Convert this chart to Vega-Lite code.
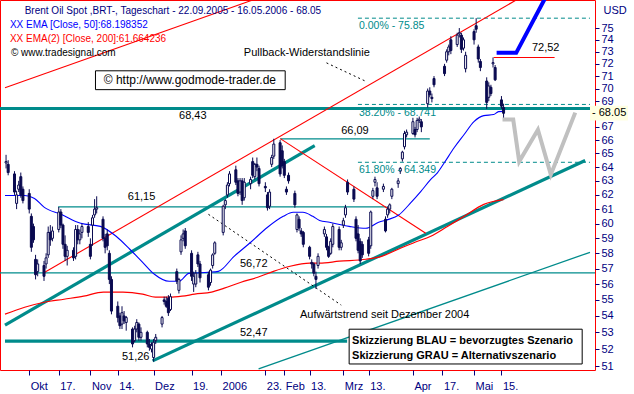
{
"$schema":"https://vega.github.io/schema/vega-lite/v6.json",
"width":595,"height":370,
"autosize":{"type":"none"},
"padding":{"left":0,"top":0,"right":39,"bottom":24},
"background":"white",
"config":{"view":{"stroke":"#ff0000","strokeWidth":1},"font":"Liberation Sans","text":{"font":"Liberation Sans"},
 "axisX":{"labelOverlap":false,"labelAlign":"left","labelOffset":1,"labelPadding":5,"labelColor":"#000080","labelFont":"Liberation Sans","labelFontSize":11,"labelFlush":false,"labelBound":false,"tickColor":"#000080","tickSize":5,"domain":false,"grid":false},
 "axisY":{"labelOverlap":false,"labelColor":"#000080","labelFont":"Liberation Sans","labelFontSize":11,"labelPadding":2,"tickColor":"#000080","tickSize":4,"domain":false,"grid":false,"labelBound":false,"labelFlush":false}},
"datasets":{
"full":[{"v":56.72,"k":"thin"},{"v":68.43,"k":"thick"}],
"tealThin":[{"a":"2005-10-16T17:00Z","b":"2006-03-21T12:00Z","p":61.15,"q":61.15},{"a":"2006-01-30T02:00Z","b":"2006-04-11T00:00Z","p":66.09,"q":66.09},{"a":"2006-01-19T19:00Z","b":"2006-06-26T00:00Z","p":50.83,"q":58.07}],
"tealThick":[{"a":"2005-09-21T12:00Z","b":"2006-03-02T19:00Z","p":52.47,"q":52.47},{"a":"2005-09-21T12:00Z","b":"2006-02-15T10:00Z","p":53.44,"q":65.58},{"a":"2005-11-30T12:00Z","b":"2006-06-23T17:00Z","p":51.3,"q":64.48}],
"fib":[{"a":"2006-03-07T22:00Z","b":"2006-06-26T00:00Z","p":75.85,"q":75.85},{"a":"2006-03-07T22:00Z","b":"2006-06-26T00:00Z","p":68.741,"q":68.741},{"a":"2006-03-07T22:00Z","b":"2006-06-26T00:00Z","p":64.349,"q":64.349}],
"red":[{"a":"2005-10-10T04:00Z","b":"2006-05-22T00:00Z","p":56.75,"q":77.44},{"a":"2005-09-21T12:00Z","b":"2006-01-17T00:00Z","p":70.06,"q":77.44},{"a":"2006-01-30T02:00Z","b":"2006-04-09T02:00Z","p":66.11,"q":59.34},{"a":"2006-05-11T07:00Z","b":"2006-06-09T05:00Z","p":72.52,"q":72.52}],
"blackDash":[{"a":"2006-02-21T00:00Z","b":"2006-03-12T03:00Z","p":72.08,"q":70.54},{"a":"2005-12-27T00:00Z","b":"2006-02-28T00:00Z","p":60.64,"q":54.67}],
"ema50":[{"d":"2005-09-21T12:00Z","v":61.96},{"d":"2005-09-30T20:00Z","v":61.96},{"d":"2005-10-05T12:00Z","v":61.75},{"d":"2005-10-10T04:00Z","v":61.12},{"d":"2005-10-18T02:00Z","v":60.64},{"d":"2005-10-27T10:00Z","v":60.02},{"d":"2005-11-05T18:00Z","v":59.81},{"d":"2005-11-13T05:00Z","v":59.14},{"d":"2005-11-19T17:00Z","v":58.27},{"d":"2005-11-25T19:00Z","v":57.41},{"d":"2005-12-01T09:00Z","v":56.63},{"d":"2005-12-08T09:00Z","v":56.18},{"d":"2005-12-13T01:00Z","v":56.18},{"d":"2005-12-17T17:00Z","v":56.69},{"d":"2005-12-27T01:00Z","v":56.76},{"d":"2005-12-31T17:00Z","v":56.82},{"d":"2006-01-08T04:00Z","v":57.8},{"d":"2006-01-16T02:00Z","v":58.74},{"d":"2006-01-24T01:00Z","v":59.75},{"d":"2006-01-31T12:00Z","v":60.5},{"d":"2006-02-05T04:00Z","v":60.78},{"d":"2006-02-09T20:00Z","v":60.78},{"d":"2006-02-14T12:00Z","v":60.5},{"d":"2006-02-17T18:00Z","v":60.22},{"d":"2006-02-22T10:00Z","v":60.09},{"d":"2006-03-03T18:00Z","v":59.81},{"d":"2006-03-11T16:00Z","v":59.68},{"d":"2006-03-17T18:00Z","v":60.09},{"d":"2006-03-22T10:00Z","v":60.29},{"d":"2006-03-27T01:00Z","v":60.57},{"d":"2006-04-02T03:00Z","v":61.47},{"d":"2006-04-06T19:00Z","v":62.25},{"d":"2006-04-11T11:00Z","v":63.1},{"d":"2006-04-14T17:00Z","v":63.6},{"d":"2006-04-17T23:00Z","v":64.33},{"d":"2006-04-22T15:00Z","v":65.44},{"d":"2006-04-27T07:00Z","v":66.42},{"d":"2006-05-01T23:00Z","v":67.41},{"d":"2006-05-06T15:00Z","v":67.87},{"d":"2006-05-11T07:00Z","v":67.95},{"d":"2006-05-13T15:00Z","v":68.18},{"d":"2006-05-15T23:00Z","v":68.2}],
"ema200":[{"d":"2005-09-21T12:00Z","v":54.11},{"d":"2005-09-30T20:00Z","v":54.54},{"d":"2005-10-10T04:00Z","v":54.85},{"d":"2005-10-19T12:00Z","v":55.04},{"d":"2005-10-28T19:00Z","v":55.23},{"d":"2005-11-07T03:00Z","v":55.49},{"d":"2005-11-16T11:00Z","v":55.49},{"d":"2005-11-25T19:00Z","v":55.36},{"d":"2005-12-01T21:00Z","v":55.17},{"d":"2005-12-08T09:00Z","v":55.17},{"d":"2005-12-14T11:00Z","v":55.23},{"d":"2005-12-20T12:00Z","v":55.36},{"d":"2005-12-28T11:00Z","v":55.49},{"d":"2006-01-03T12:00Z","v":55.74},{"d":"2006-01-11T11:00Z","v":56.12},{"d":"2006-01-19T09:00Z","v":56.44},{"d":"2006-01-26T20:00Z","v":56.82},{"d":"2006-02-03T18:00Z","v":57.15},{"d":"2006-02-13T02:00Z","v":57.35},{"d":"2006-02-17T18:00Z","v":57.35},{"d":"2006-02-27T02:00Z","v":57.48},{"d":"2006-03-11T16:00Z","v":57.61},{"d":"2006-03-19T03:00Z","v":57.8},{"d":"2006-03-27T01:00Z","v":58.27},{"d":"2006-04-03T23:00Z","v":58.74},{"d":"2006-04-11T11:00Z","v":59.14},{"d":"2006-04-19T09:00Z","v":59.81},{"d":"2006-04-27T07:00Z","v":60.5},{"d":"2006-05-06T15:00Z","v":61.33},{"d":"2006-05-15T23:00Z","v":61.66}],
"blue":[{"d":"2006-05-12T17:00Z","v":72.91},{"d":"2006-05-22T00:00Z","v":72.91},{"d":"2006-06-05T00:00Z","v":77.7}],
"grey":[{"d":"2006-05-15T12:00Z","v":67.56},{"d":"2006-05-20T14:00Z","v":67.56},{"d":"2006-05-23T10:00Z","v":64.41},{"d":"2006-06-01T07:00Z","v":66.79},{"d":"2006-06-07T10:00Z","v":63.45},{"d":"2006-06-19T00:00Z","v":68.1}],
"boxes":[{"a":"2005-11-03T10:00Z","b":"2006-02-01T10:00Z","p":71.43,"q":69.91},{"a":"2006-03-03T18:00Z","b":"2006-06-22T07:00Z","p":53.19,"q":51.12}],
"lblC":[{"d":"2005-12-19T14:00Z","v":67.87,"t":"68,43"},{"d":"2005-11-25T07:00Z","v":61.82,"t":"61,15"},{"d":"2006-01-17T12:00Z","v":57.28,"t":"56,72"},{"d":"2006-01-17T12:00Z","v":52.95,"t":"52,47"},{"d":"2005-11-22T12:00Z","v":51.53,"t":"51,26"},{"d":"2006-03-06T12:00Z","v":66.72,"t":"66,09"},{"d":"2006-06-05T00:00Z","v":73.33,"t":"72,52"}],
"lblL":[{"d":"2006-01-12T19:00Z","v":72.91,"t":"Pullback-Widerstandslinie"},{"d":"2006-02-08T10:00Z","v":54.04,"t":"Aufwärtstrend seit Dezember 2004"}],
"lblFib":[{"d":"2006-03-08T10:00Z","v":75.18,"t":"0.00% - 75.85"},{"d":"2006-03-08T10:00Z","v":68.1,"t":"38.20% - 68.741"},{"d":"2006-03-08T10:00Z","v":63.75,"t":"61.80% - 64.349"}],
"header":[{"d":"2005-09-30T20:00Z","v":76.48,"t":"Brent Oil Spot ,BRT-, Tageschart - 22.09.2005 - 16.05.2006 - 68.05","k":"a"},{"d":"2005-09-23T20:00Z","v":75.27,"t":"XX EMA [Close, 50]:68.198352","k":"b"},{"d":"2005-09-23T20:00Z","v":74.08,"t":"XX EMA(2) [Close, 200]:61.664236","k":"c"},{"d":"2005-09-24T08:00Z","v":72.91,"t":"© www.tradesignal.com","k":"d"}],
"godmode":[{"d":"2005-12-18T05:00Z","v":70.71,"t":"© http://www.godmode-trader.de"}],
"skizz":[{"d":"2006-03-05T03:00Z","v":52.47,"t":"Skizzierung BLAU = bevorzugtes Szenario"},{"d":"2006-03-05T03:00Z","v":51.58,"t":"Skizzierung GRAU = Alternativszenario"}],
"marker":[{"a":"2006-06-26T00:00Z","b":"2006-07-14T00:00Z","p":68.64,"q":67.5,"v":68.05,"t":"- 68.05"}],
"ohlc":[
{"d":"2005-09-22","o":64.3,"h":64.9,"l":63.9,"c":64.4},{"d":"2005-09-23","o":64.2,"h":64.5,"l":63.4,"c":63.6},{"d":"2005-09-26","o":63.5,"h":63.7,"l":62.0,"c":62.2},{"d":"2005-09-27","o":61.4,"h":62.3,"l":61.0,"c":62.0},{"d":"2005-09-28","o":62.4,"h":63.0,"l":62.2,"c":62.7},{"d":"2005-09-29","o":63.3,"h":63.6,"l":61.8,"c":62.0},{"d":"2005-09-30","o":62.4,"h":62.6,"l":61.4,"c":61.6},
{"d":"2005-10-03","o":62.1,"h":62.4,"l":60.7,"c":61.0},{"d":"2005-10-04","o":60.5,"h":60.7,"l":58.1,"c":58.4},{"d":"2005-10-05","o":59.8,"h":60.0,"l":58.7,"c":58.9},{"d":"2005-10-06","o":57.6,"h":57.9,"l":56.3,"c":56.6},{"d":"2005-10-07","o":56.8,"h":57.6,"l":56.5,"c":57.3},
{"d":"2005-10-10","o":57.2,"h":57.5,"l":56.2,"c":56.5},{"d":"2005-10-11","o":57.3,"h":58.0,"l":57.0,"c":57.7},{"d":"2005-10-12","o":57.9,"h":59.8,"l":57.7,"c":59.4},{"d":"2005-10-13","o":59.4,"h":59.9,"l":58.5,"c":58.9},{"d":"2005-10-14","o":59.0,"h":59.8,"l":58.8,"c":59.5},
{"d":"2005-10-17","o":59.6,"h":61.15,"l":59.4,"c":60.8},{"d":"2005-10-18","o":60.8,"h":61.0,"l":59.7,"c":59.9},{"d":"2005-10-19","o":59.9,"h":60.0,"l":58.3,"c":58.6},{"d":"2005-10-20","o":58.6,"h":59.2,"l":57.5,"c":57.8},{"d":"2005-10-21","o":57.8,"h":58.5,"l":57.2,"c":58.2},
{"d":"2005-10-24","o":58.2,"h":58.4,"l":57.5,"c":57.7},{"d":"2005-10-25","o":57.8,"h":59.9,"l":57.6,"c":59.6},{"d":"2005-10-26","o":59.6,"h":59.9,"l":58.6,"c":58.9},{"d":"2005-10-27","o":58.9,"h":59.6,"l":58.6,"c":59.3},{"d":"2005-10-28","o":59.4,"h":60.0,"l":59.0,"c":59.8},
{"d":"2005-10-31","o":59.8,"h":60.1,"l":59.1,"c":59.4},{"d":"2005-11-01","o":58.6,"h":59.0,"l":57.6,"c":57.8},{"d":"2005-11-02","o":59.9,"h":60.6,"l":58.5,"c":60.4},{"d":"2005-11-03","o":60.6,"h":61.7,"l":60.4,"c":61.0},{"d":"2005-11-04","o":61.0,"h":61.9,"l":60.7,"c":61.1},
{"d":"2005-11-07","o":60.3,"h":60.5,"l":58.8,"c":59.0},{"d":"2005-11-08","o":59.0,"h":59.3,"l":58.0,"c":58.4},{"d":"2005-11-09","o":59.3,"h":59.6,"l":58.2,"c":58.5},{"d":"2005-11-10","o":58.0,"h":58.2,"l":56.0,"c":56.3},{"d":"2005-11-11","o":56.3,"h":56.5,"l":54.1,"c":54.3},
{"d":"2005-11-14","o":54.6,"h":54.9,"l":53.6,"c":53.9},{"d":"2005-11-15","o":54.0,"h":54.2,"l":53.2,"c":53.4},{"d":"2005-11-16","o":53.5,"h":54.6,"l":53.2,"c":54.2},{"d":"2005-11-17","o":54.0,"h":54.3,"l":53.5,"c":53.7},{"d":"2005-11-18","o":53.6,"h":54.0,"l":53.1,"c":53.9},
{"d":"2005-11-21","o":53.2,"h":53.3,"l":52.1,"c":52.3},{"d":"2005-11-22","o":52.5,"h":53.4,"l":52.4,"c":53.2},{"d":"2005-11-23","o":53.2,"h":53.8,"l":53.0,"c":53.6},{"d":"2005-11-24","o":53.5,"h":53.6,"l":52.5,"c":52.7},{"d":"2005-11-25","o":52.7,"h":53.3,"l":52.5,"c":53.0},
{"d":"2005-11-28","o":53.0,"h":53.1,"l":52.1,"c":52.3},{"d":"2005-11-29","o":52.3,"h":52.6,"l":51.9,"c":52.1},{"d":"2005-11-30","o":52.0,"h":52.4,"l":51.8,"c":52.2},{"d":"2005-12-01","o":51.5,"h":52.6,"l":51.26,"c":52.4},{"d":"2005-12-02","o":52.5,"h":52.9,"l":52.3,"c":52.7},
{"d":"2005-12-05","o":53.5,"h":54.0,"l":53.3,"c":53.9},{"d":"2005-12-06","o":55.0,"h":55.2,"l":54.7,"c":54.9},{"d":"2005-12-07","o":54.9,"h":55.2,"l":54.5,"c":54.6},{"d":"2005-12-08","o":55.1,"h":55.3,"l":54.0,"c":54.2},{"d":"2005-12-09","o":54.4,"h":55.4,"l":54.3,"c":55.2},
{"d":"2005-12-12","o":56.8,"h":57.0,"l":56.0,"c":56.2},{"d":"2005-12-13","o":55.6,"h":56.4,"l":55.4,"c":56.3},{"d":"2005-12-14","o":58.1,"h":59.2,"l":57.9,"c":58.9},{"d":"2005-12-15","o":59.0,"h":59.6,"l":58.8,"c":59.3},{"d":"2005-12-16","o":59.5,"h":59.7,"l":58.3,"c":58.5},
{"d":"2005-12-19","o":58.0,"h":58.2,"l":56.2,"c":56.5},{"d":"2005-12-20","o":56.0,"h":56.8,"l":55.5,"c":56.5},{"d":"2005-12-21","o":56.0,"h":56.9,"l":55.8,"c":56.7},{"d":"2005-12-22","o":57.9,"h":58.1,"l":57.1,"c":57.3},{"d":"2005-12-23","o":57.3,"h":57.5,"l":56.1,"c":56.4},
{"d":"2005-12-27","o":56.6,"h":56.8,"l":55.6,"c":55.8},{"d":"2005-12-28","o":56.1,"h":57.0,"l":55.9,"c":56.9},{"d":"2005-12-29","o":57.2,"h":58.0,"l":57.0,"c":57.9},{"d":"2005-12-30","o":58.0,"h":58.8,"l":57.9,"c":58.7},
{"d":"2006-01-03","o":59.4,"h":61.3,"l":59.2,"c":61.2},{"d":"2006-01-04","o":61.3,"h":61.7,"l":61.0,"c":61.6},{"d":"2006-01-05","o":62.0,"h":62.9,"l":61.8,"c":62.7},{"d":"2006-01-06","o":62.8,"h":63.7,"l":62.6,"c":63.5},
{"d":"2006-01-09","o":63.8,"h":64.1,"l":62.7,"c":62.9},{"d":"2006-01-10","o":63.0,"h":63.2,"l":61.9,"c":62.1},{"d":"2006-01-11","o":62.2,"h":63.2,"l":62.0,"c":63.0},{"d":"2006-01-12","o":63.0,"h":63.2,"l":61.3,"c":61.6},{"d":"2006-01-13","o":61.8,"h":63.2,"l":61.6,"c":62.9},
{"d":"2006-01-16","o":62.8,"h":63.3,"l":62.4,"c":63.1},{"d":"2006-01-17","o":64.4,"h":64.7,"l":63.2,"c":63.4},{"d":"2006-01-18","o":63.3,"h":64.3,"l":63.1,"c":64.2},{"d":"2006-01-19","o":64.2,"h":64.7,"l":63.7,"c":64.0},{"d":"2006-01-20","o":63.9,"h":64.1,"l":62.6,"c":62.8},
{"d":"2006-01-23","o":62.6,"h":62.9,"l":62.2,"c":62.5},{"d":"2006-01-24","o":62.0,"h":62.2,"l":60.9,"c":61.1},{"d":"2006-01-25","o":61.2,"h":62.4,"l":61.0,"c":62.2},{"d":"2006-01-26","o":64.2,"h":64.9,"l":64.0,"c":64.7},{"d":"2006-01-27","o":64.8,"h":66.1,"l":64.6,"c":65.7},
{"d":"2006-01-30","o":65.8,"h":66.0,"l":63.3,"c":63.5},{"d":"2006-01-31","o":65.2,"h":65.6,"l":63.9,"c":64.1},{"d":"2006-02-01","o":64.4,"h":64.6,"l":63.2,"c":63.4},{"d":"2006-02-02","o":62.4,"h":62.6,"l":62.0,"c":62.2},{"d":"2006-02-03","o":63.4,"h":63.6,"l":62.8,"c":63.0},
{"d":"2006-02-06","o":62.1,"h":62.3,"l":61.1,"c":61.3},{"d":"2006-02-07","o":59.6,"h":60.7,"l":59.4,"c":60.6},{"d":"2006-02-08","o":60.3,"h":60.5,"l":59.5,"c":59.7},{"d":"2006-02-09","o":59.5,"h":59.7,"l":59.1,"c":59.3},{"d":"2006-02-10","o":59.4,"h":59.5,"l":58.4,"c":58.6},
{"d":"2006-02-13","o":58.4,"h":58.5,"l":57.6,"c":57.8},{"d":"2006-02-14","o":57.4,"h":57.6,"l":57.0,"c":57.3},{"d":"2006-02-15","o":57.3,"h":57.4,"l":56.5,"c":56.7},{"d":"2006-02-16","o":56.5,"h":56.8,"l":55.7,"c":56.3},{"d":"2006-02-17","o":57.2,"h":58.0,"l":57.0,"c":57.8},
{"d":"2006-02-20","o":59.3,"h":59.8,"l":59.1,"c":59.6},{"d":"2006-02-21","o":59.1,"h":59.3,"l":58.2,"c":58.4},{"d":"2006-02-22","o":58.4,"h":58.5,"l":57.7,"c":57.8},{"d":"2006-02-23","o":58.0,"h":59.0,"l":57.9,"c":58.8},{"d":"2006-02-24","o":58.6,"h":60.0,"l":58.4,"c":59.8},
{"d":"2006-02-27","o":59.6,"h":59.8,"l":58.2,"c":58.4},{"d":"2006-02-28","o":58.4,"h":58.9,"l":58.2,"c":58.7},{"d":"2006-03-01","o":59.9,"h":60.4,"l":59.7,"c":60.2},{"d":"2006-03-02","o":60.6,"h":61.3,"l":60.4,"c":61.1},{"d":"2006-03-03","o":62.9,"h":63.1,"l":62.0,"c":62.2},
{"d":"2006-03-06","o":62.4,"h":62.6,"l":61.5,"c":61.7},{"d":"2006-03-07","o":60.3,"h":60.5,"l":58.8,"c":59.0},{"d":"2006-03-08","o":59.3,"h":59.9,"l":58.0,"c":58.2},{"d":"2006-03-09","o":58.8,"h":59.0,"l":57.3,"c":57.5},{"d":"2006-03-10","o":58.6,"h":58.8,"l":57.7,"c":57.9},
{"d":"2006-03-13","o":58.9,"h":59.1,"l":57.8,"c":58.0},{"d":"2006-03-14","o":58.5,"h":60.9,"l":58.3,"c":60.8},{"d":"2006-03-15","o":61.9,"h":62.5,"l":61.7,"c":62.3},{"d":"2006-03-16","o":62.9,"h":63.3,"l":62.6,"c":63.1},{"d":"2006-03-17","o":62.5,"h":62.9,"l":61.7,"c":61.9},
{"d":"2006-03-20","o":62.4,"h":62.8,"l":62.2,"c":62.6},{"d":"2006-03-21","o":60.3,"h":60.5,"l":59.4,"c":59.5},{"d":"2006-03-22","o":60.6,"h":61.2,"l":60.4,"c":61.0},{"d":"2006-03-23","o":61.0,"h":61.4,"l":60.7,"c":61.3},{"d":"2006-03-24","o":61.9,"h":62.5,"l":61.7,"c":62.4},
{"d":"2006-03-27","o":62.8,"h":63.2,"l":62.5,"c":63.0},{"d":"2006-03-28","o":63.7,"h":64.0,"l":63.5,"c":63.9},{"d":"2006-03-29","o":64.6,"h":65.2,"l":64.4,"c":65.1},{"d":"2006-03-30","o":65.5,"h":66.7,"l":65.3,"c":66.5},{"d":"2006-03-31","o":66.4,"h":66.8,"l":66.2,"c":66.6},
{"d":"2006-04-03","o":66.5,"h":67.7,"l":66.4,"c":67.4},{"d":"2006-04-04","o":66.8,"h":67.0,"l":66.2,"c":66.4},{"d":"2006-04-05","o":66.8,"h":67.7,"l":66.6,"c":67.5},{"d":"2006-04-06","o":67.5,"h":67.8,"l":67.3,"c":67.6},{"d":"2006-04-07","o":67.4,"h":67.6,"l":66.6,"c":67.0},
{"d":"2006-04-10","o":68.8,"h":70.0,"l":68.5,"c":69.8},{"d":"2006-04-11","o":69.8,"h":70.1,"l":69.3,"c":69.5},{"d":"2006-04-12","o":69.3,"h":69.6,"l":68.9,"c":69.2},{"d":"2006-04-13","o":70.8,"h":71.0,"l":70.1,"c":70.3},
{"d":"2006-04-18","o":71.8,"h":72.0,"l":71.0,"c":71.2},{"d":"2006-04-19","o":72.3,"h":73.2,"l":72.1,"c":73.0},{"d":"2006-04-20","o":73.0,"h":73.6,"l":72.7,"c":73.4},{"d":"2006-04-21","o":74.0,"h":74.3,"l":72.8,"c":73.1},
{"d":"2006-04-24","o":73.6,"h":74.6,"l":73.4,"c":74.4},{"d":"2006-04-25","o":74.5,"h":75.0,"l":74.2,"c":74.6},{"d":"2006-04-26","o":74.4,"h":74.6,"l":72.9,"c":73.2},{"d":"2006-04-27","o":73.3,"h":74.2,"l":73.1,"c":74.0},{"d":"2006-04-28","o":71.6,"h":73.0,"l":71.3,"c":72.7},
{"d":"2006-05-02","o":74.7,"h":74.9,"l":73.6,"c":74.0},{"d":"2006-05-03","o":75.2,"h":75.85,"l":74.6,"c":74.9},{"d":"2006-05-04","o":73.4,"h":73.6,"l":72.1,"c":72.4},{"d":"2006-05-05","o":72.2,"h":72.4,"l":71.4,"c":71.7},
{"d":"2006-05-08","o":70.6,"h":70.9,"l":68.4,"c":68.9},{"d":"2006-05-09","o":69.3,"h":70.5,"l":69.0,"c":70.2},{"d":"2006-05-10","o":70.1,"h":70.3,"l":69.4,"c":69.6},{"d":"2006-05-11","o":72.0,"h":72.52,"l":71.7,"c":72.1},{"d":"2006-05-12","o":71.7,"h":71.9,"l":70.6,"c":70.7},
{"d":"2006-05-15","o":69.1,"h":69.4,"l":68.4,"c":68.6},{"d":"2006-05-16","o":68.5,"h":68.8,"l":67.5,"c":68.05}
]},
"layer":[
{"data":{"name":"full"},"transform":[{"filter":"datum.k=='thin'"}],"mark":{"type":"rule","color":"#008b8b","strokeWidth":1.3},
 "encoding":{"y":{"field":"v","type":"quantitative","title":"USD","scale":{"type":"log","domain":[50.77,77.44],"nice":false}}}},
{"data":{"name":"full"},"transform":[{"filter":"datum.k=='thick'"}],"mark":{"type":"rule","color":"#008b8b","strokeWidth":3},
 "encoding":{"y":{"field":"v","type":"quantitative","title":"USD","scale":{"type":"log","domain":[50.77,77.44],"nice":false}}}},
{"data":{"name":"tealThin"},"mark":{"type":"rule","color":"#008b8b","strokeWidth":1.3,"clip":true},
 "encoding":{"x":{"field":"a","type":"temporal","title":null,"scale":{"type":"utc","domain":[{"year":2005,"month":9,"date":21,"hours":12,"utc":true},{"year":2006,"month":6,"date":26,"utc":true}]}},"x2":{"field":"b"},
 "y":{"field":"p","type":"quantitative","title":"USD","scale":{"type":"log","domain":[50.77,77.44],"nice":false}},"y2":{"field":"q"}}},
{"data":{"name":"tealThick"},"mark":{"type":"rule","color":"#008b8b","strokeWidth":3.2,"clip":true},
 "encoding":{"x":{"field":"a","type":"temporal","title":null,"scale":{"type":"utc","domain":[{"year":2005,"month":9,"date":21,"hours":12,"utc":true},{"year":2006,"month":6,"date":26,"utc":true}]}},"x2":{"field":"b"},
 "y":{"field":"p","type":"quantitative","title":"USD","scale":{"type":"log","domain":[50.77,77.44],"nice":false}},"y2":{"field":"q"}}},
{"data":{"name":"fib"},"mark":{"type":"rule","color":"#008b8b","strokeWidth":1,"strokeDash":[4,3],"clip":true},
 "encoding":{"x":{"field":"a","type":"temporal","title":null,"scale":{"type":"utc","domain":[{"year":2005,"month":9,"date":21,"hours":12,"utc":true},{"year":2006,"month":6,"date":26,"utc":true}]}},"x2":{"field":"b"},
 "y":{"field":"p","type":"quantitative","title":"USD","scale":{"type":"log","domain":[50.77,77.44],"nice":false}},"y2":{"field":"q"}}},
{"data":{"name":"red"},"mark":{"type":"rule","color":"#ff0000","strokeWidth":1.1,"clip":true},
 "encoding":{"x":{"field":"a","type":"temporal","title":null,"scale":{"type":"utc","domain":[{"year":2005,"month":9,"date":21,"hours":12,"utc":true},{"year":2006,"month":6,"date":26,"utc":true}]}},"x2":{"field":"b"},
 "y":{"field":"p","type":"quantitative","title":"USD","scale":{"type":"log","domain":[50.77,77.44],"nice":false}},"y2":{"field":"q"}}},
{"data":{"name":"blackDash"},"mark":{"type":"rule","color":"#000000","strokeWidth":1,"strokeDash":[2,3],"clip":true},
 "encoding":{"x":{"field":"a","type":"temporal","title":null,"scale":{"type":"utc","domain":[{"year":2005,"month":9,"date":21,"hours":12,"utc":true},{"year":2006,"month":6,"date":26,"utc":true}]}},"x2":{"field":"b"},
 "y":{"field":"p","type":"quantitative","title":"USD","scale":{"type":"log","domain":[50.77,77.44],"nice":false}},"y2":{"field":"q"}}},
{"data":{"name":"ema200"},"mark":{"type":"line","color":"#ff0000","strokeWidth":1.2,"interpolate":"monotone","clip":true},
 "encoding":{"x":{"field":"d","type":"temporal","title":null,"scale":{"type":"utc","domain":[{"year":2005,"month":9,"date":21,"hours":12,"utc":true},{"year":2006,"month":6,"date":26,"utc":true}]}},
 "y":{"field":"v","type":"quantitative","title":"USD","scale":{"type":"log","domain":[50.77,77.44],"nice":false}}}},
{"data":{"name":"ema50"},"mark":{"type":"line","color":"#0000ff","strokeWidth":1.1,"interpolate":"monotone","clip":true},
 "encoding":{"x":{"field":"d","type":"temporal","title":null,"scale":{"type":"utc","domain":[{"year":2005,"month":9,"date":21,"hours":12,"utc":true},{"year":2006,"month":6,"date":26,"utc":true}]}},
 "y":{"field":"v","type":"quantitative","title":"USD","scale":{"type":"log","domain":[50.77,77.44],"nice":false}}}},
{"data":{"name":"ohlc"},"mark":{"type":"rule","color":"#0a0a50","strokeWidth":1},
 "encoding":{"x":{"field":"d","type":"temporal","title":null,"scale":{"type":"utc","domain":[{"year":2005,"month":9,"date":21,"hours":12,"utc":true},{"year":2006,"month":6,"date":26,"utc":true}]},
   "axis":{"orient":"bottom","labelOverlap":false,"tickCount":40,"values":[{"year":2005,"month":10,"date":3,"utc":true},{"year":2005,"month":10,"date":17,"utc":true},{"year":2005,"month":11,"date":1,"utc":true},{"year":2005,"month":11,"date":14,"utc":true},{"year":2005,"month":12,"date":1,"utc":true},{"year":2005,"month":12,"date":19,"utc":true},{"year":2006,"month":1,"date":2,"utc":true},{"year":2006,"month":1,"date":23,"utc":true},{"year":2006,"month":2,"date":1,"utc":true},{"year":2006,"month":2,"date":13,"utc":true},{"year":2006,"month":3,"date":1,"utc":true},{"year":2006,"month":3,"date":13,"utc":true},{"year":2006,"month":4,"date":3,"utc":true},{"year":2006,"month":4,"date":17,"utc":true},{"year":2006,"month":5,"date":2,"utc":true},{"year":2006,"month":5,"date":15,"utc":true}],
   "labelExpr":"utcdate(datum.value) <= 3 ? (utcmonth(datum.value) == 0 ? utcFormat(datum.value, '%Y') : ['Jan','Feb','Mrz','Apr','Mai','Jun','Jul','Aug','Sep','Okt','Nov','Dez'][utcmonth(datum.value)]) : utcdate(datum.value) + '.'"}},
 "y":{"field":"l","type":"quantitative","title":"USD","scale":{"type":"log","domain":[50.77,77.44],"nice":false},
   "axis":{"orient":"right","labelOverlap":false,"tickCount":40,"values":[51,52,53,54,55,56,57,58,59,60,61,62,63,64,65,66,67,69,70,71,72,73,74,75],"format":"d",
   "titleAngle":0,"titleAlign":"left","titleBaseline":"middle","titleX":8,"titleY":10,"titleColor":"#000080","titleFont":"Liberation Sans","titleFontSize":11,"titleFontWeight":"normal"}},
 "y2":{"field":"h"}}},
{"data":{"name":"ohlc"},"mark":{"type":"bar","width":2,"strokeWidth":1,"stroke":"#0a0a50"},
 "encoding":{"x":{"field":"d","type":"temporal","title":null,"scale":{"type":"utc","domain":[{"year":2005,"month":9,"date":21,"hours":12,"utc":true},{"year":2006,"month":6,"date":26,"utc":true}]}},
 "y":{"field":"o","type":"quantitative","title":"USD","scale":{"type":"log","domain":[50.77,77.44],"nice":false}},"y2":{"field":"c"},
 "fill":{"condition":{"test":"datum.c < datum.o","value":"#0a0a50"},"value":"#ffffff"}}},
{"data":{"name":"blue"},"mark":{"type":"line","color":"#0000ff","strokeWidth":4,"clip":true},
 "encoding":{"x":{"field":"d","type":"temporal","title":null,"scale":{"type":"utc","domain":[{"year":2005,"month":9,"date":21,"hours":12,"utc":true},{"year":2006,"month":6,"date":26,"utc":true}]}},
 "y":{"field":"v","type":"quantitative","title":"USD","scale":{"type":"log","domain":[50.77,77.44],"nice":false}}}},
{"data":{"name":"grey"},"mark":{"type":"line","color":"#c0c0c0","strokeWidth":4,"clip":true},
 "encoding":{"x":{"field":"d","type":"temporal","title":null,"scale":{"type":"utc","domain":[{"year":2005,"month":9,"date":21,"hours":12,"utc":true},{"year":2006,"month":6,"date":26,"utc":true}]}},
 "y":{"field":"v","type":"quantitative","title":"USD","scale":{"type":"log","domain":[50.77,77.44],"nice":false}}}},
{"data":{"name":"boxes"},"mark":{"type":"rect","fill":"#ffffff","stroke":"#000000","strokeWidth":1},
 "encoding":{"x":{"field":"a","type":"temporal","title":null,"scale":{"type":"utc","domain":[{"year":2005,"month":9,"date":21,"hours":12,"utc":true},{"year":2006,"month":6,"date":26,"utc":true}]}},"x2":{"field":"b"},
 "y":{"field":"p","type":"quantitative","title":"USD","scale":{"type":"log","domain":[50.77,77.44],"nice":false}},"y2":{"field":"q"}}},
{"data":{"name":"lblC"},"mark":{"type":"text","font":"Liberation Sans","fontSize":11,"color":"#000000","align":"center","baseline":"middle"},
 "encoding":{"x":{"field":"d","type":"temporal","title":null,"scale":{"type":"utc","domain":[{"year":2005,"month":9,"date":21,"hours":12,"utc":true},{"year":2006,"month":6,"date":26,"utc":true}]}},
 "y":{"field":"v","type":"quantitative","title":"USD","scale":{"type":"log","domain":[50.77,77.44],"nice":false}},"text":{"field":"t"}}},
{"data":{"name":"lblL"},"mark":{"type":"text","font":"Liberation Sans","fontSize":11,"color":"#000000","align":"left","baseline":"middle"},
 "encoding":{"x":{"field":"d","type":"temporal","title":null,"scale":{"type":"utc","domain":[{"year":2005,"month":9,"date":21,"hours":12,"utc":true},{"year":2006,"month":6,"date":26,"utc":true}]}},
 "y":{"field":"v","type":"quantitative","title":"USD","scale":{"type":"log","domain":[50.77,77.44],"nice":false}},"text":{"field":"t"}}},
{"data":{"name":"lblFib"},"mark":{"type":"text","font":"Liberation Sans","fontSize":10.5,"color":"#008b8b","align":"left","baseline":"middle"},
 "encoding":{"x":{"field":"d","type":"temporal","title":null,"scale":{"type":"utc","domain":[{"year":2005,"month":9,"date":21,"hours":12,"utc":true},{"year":2006,"month":6,"date":26,"utc":true}]}},
 "y":{"field":"v","type":"quantitative","title":"USD","scale":{"type":"log","domain":[50.77,77.44],"nice":false}},"text":{"field":"t"}}},
{"data":{"name":"header"},"mark":{"type":"text","font":"Liberation Sans","fontSize":10,"align":"left","baseline":"middle"},
 "encoding":{"x":{"field":"d","type":"temporal","title":null,"scale":{"type":"utc","domain":[{"year":2005,"month":9,"date":21,"hours":12,"utc":true},{"year":2006,"month":6,"date":26,"utc":true}]}},
 "y":{"field":"v","type":"quantitative","title":"USD","scale":{"type":"log","domain":[50.77,77.44],"nice":false}},"text":{"field":"t"},
 "color":{"field":"k","type":"nominal","legend":null,"scale":{"domain":["a","b","c","d"],"range":["#000080","#0000ff","#ff0000","#000000"]}}}},
{"data":{"name":"godmode"},"mark":{"type":"text","font":"Liberation Sans","fontSize":12,"color":"#000000","align":"center","baseline":"middle"},
 "encoding":{"x":{"field":"d","type":"temporal","title":null,"scale":{"type":"utc","domain":[{"year":2005,"month":9,"date":21,"hours":12,"utc":true},{"year":2006,"month":6,"date":26,"utc":true}]}},
 "y":{"field":"v","type":"quantitative","title":"USD","scale":{"type":"log","domain":[50.77,77.44],"nice":false}},"text":{"field":"t"}}},
{"data":{"name":"skizz"},"mark":{"type":"text","font":"Liberation Sans","fontSize":11,"fontWeight":"bold","color":"#000000","align":"left","baseline":"middle"},
 "encoding":{"x":{"field":"d","type":"temporal","title":null,"scale":{"type":"utc","domain":[{"year":2005,"month":9,"date":21,"hours":12,"utc":true},{"year":2006,"month":6,"date":26,"utc":true}]}},
 "y":{"field":"v","type":"quantitative","title":"USD","scale":{"type":"log","domain":[50.77,77.44],"nice":false}},"text":{"field":"t"}}},
{"data":{"name":"marker"},"mark":{"type":"rect","fill":"#ffffe1","clip":false},
 "encoding":{"x":{"field":"a","type":"temporal","title":null,"scale":{"type":"utc","domain":[{"year":2005,"month":9,"date":21,"hours":12,"utc":true},{"year":2006,"month":6,"date":26,"utc":true}]}},"x2":{"field":"b"},
 "y":{"field":"p","type":"quantitative","title":"USD","scale":{"type":"log","domain":[50.77,77.44],"nice":false}},"y2":{"field":"q"}}},
{"data":{"name":"marker"},"mark":{"type":"text","font":"Liberation Sans","fontSize":11,"color":"#000000","align":"left","baseline":"middle","dx":2,"clip":false},
 "encoding":{"x":{"field":"a","type":"temporal","title":null,"scale":{"type":"utc","domain":[{"year":2005,"month":9,"date":21,"hours":12,"utc":true},{"year":2006,"month":6,"date":26,"utc":true}]}},
 "y":{"field":"v","type":"quantitative","title":"USD","scale":{"type":"log","domain":[50.77,77.44],"nice":false}},"text":{"field":"t"}}}
]
}
